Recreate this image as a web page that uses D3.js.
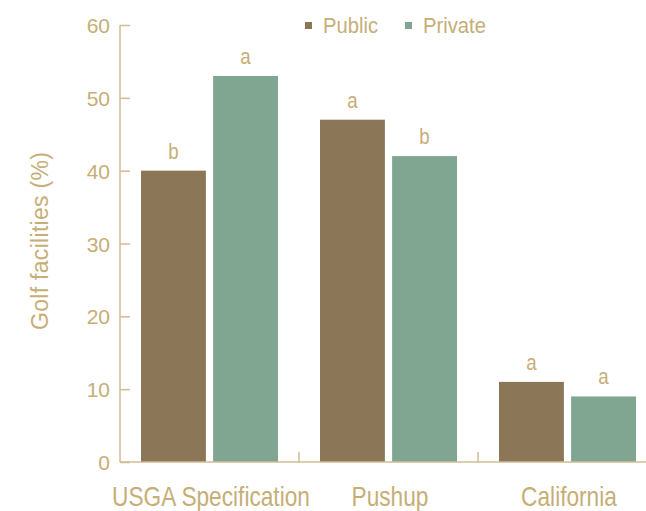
<!DOCTYPE html>
<html lang="en">
<head>
<meta charset="UTF-8">
<title>Golf facilities</title>
<script src="https://cdn.jsdelivr.net/npm/d3@7"></script>
<style>
    body { margin: 0; background: #fff; }
    text { font-family: "Liberation Sans", Arial, sans-serif; fill: #c6ae76; }
</style>
</head>
<body>
<script>
    const categories = ["USGA Specification", "Pushup", "California"];
    const series = ["Public", "Private"];
    const publicValues = [40, 47, 11];
    const privateValues = [53, 42, 9];
    const publicLetters = ["b", "a", "a"];
    const privateLetters = ["a", "b", "a"];
    const yTicks = [0, 10, 20, 30, 40, 50, 60];

    const width = 646, height = 511;
    const colors = { Public: "#8c7658", Private: "#80a692" };
    const axisColor = "#cfbc92";

    const rows = categories.map((c, i) => ({
        cat: c,
        vals: [
            { key: "Public", value: publicValues[i], letter: publicLetters[i] },
            { key: "Private", value: privateValues[i], letter: privateLetters[i] }
        ]
    }));

    const svg = d3.select("body").append("svg").attr("width", width).attr("height", height);

    const x0 = d3.scaleBand().domain(categories).range([120, 657]).padding(0);
    const x1 = d3.scaleBand().domain(series).range([21, 158]).paddingInner(0.1);
    const y = d3.scaleLinear().domain([0, 60]).range([462, 25]);

    // narrow text: draw in a group squeezed horizontally
    const narrowText = (sel, k) => sel
        .attr("transform", function () {
            const t = d3.select(this);
            return `translate(${t.attr("x")},${t.attr("y")}) scale(${k},1)`;
        })
        .attr("x", 0).attr("y", 0);

    // bars
    const grp = svg.append("g").selectAll("g").data(rows).join("g")
        .attr("transform", d => `translate(${x0(d.cat)},0)`);
    grp.selectAll("rect").data(d => d.vals).join("rect")
        .attr("x", d => x1(d.key))
        .attr("y", d => y(d.value))
        .attr("width", x1.bandwidth())
        .attr("height", d => y(0) - y(d.value))
        .attr("fill", d => colors[d.key]);
    grp.selectAll("text").data(d => d.vals).join("text")
        .attr("x", d => x1(d.key) + x1.bandwidth() / 2)
        .attr("y", d => y(d.value) - 12)
        .attr("text-anchor", "middle")
        .attr("font-size", 22)
        .text(d => d.letter)
        .call(narrowText, 0.85);

    // y axis
    const yAxis = svg.append("g").attr("transform", "translate(120,0)")
        .call(d3.axisRight(y).tickValues(yTicks).tickSize(10).tickFormat(d3.format("d")));
    yAxis.select(".domain").attr("stroke", axisColor).attr("stroke-width", 1.5).attr("d", `M0,${y(60)}V${y(0)}`);
    yAxis.selectAll(".tick line").attr("stroke", axisColor).attr("stroke-width", 1.5);
    yAxis.selectAll(".tick text")
        .attr("x", -10).attr("text-anchor", "end").attr("dy", "0.36em")
        .attr("font-size", 21).attr("fill", null)
        .style("font-family", null);
    yAxis.attr("font-family", null).attr("font-size", null);

    // x axis
    const xAxis = svg.append("g").attr("transform", `translate(0,${y(0)})`)
        .call(d3.axisTop(x0).tickSize(0).tickFormat(""));
    xAxis.select(".domain").attr("stroke", axisColor).attr("stroke-width", 1.5).attr("d", `M120,0H${width}`);
    xAxis.selectAll(".tick").remove();
    xAxis.selectAll(".sep").data(categories.slice(1)).join("line")
        .attr("x1", d => x0(d)).attr("x2", d => x0(d))
        .attr("y1", 0).attr("y2", -10)
        .attr("stroke", axisColor).attr("stroke-width", 1.5);

    svg.append("g").selectAll("text").data(categories).join("text")
        .attr("x", d => x0(d) + 91)
        .attr("y", 506)
        .attr("text-anchor", "middle")
        .attr("font-size", 27)
        .text(d => d)
        .call(narrowText, 0.84);

    // y label
    svg.append("text")
        .attr("transform", "translate(48,241) rotate(-90)")
        .attr("text-anchor", "middle")
        .attr("font-size", 23)
        .attr("textLength", 178)
        .text("Golf facilities (%)");

    // legend
    const legendX = [305, 405];
    const leg = svg.append("g").selectAll("g").data(series).join("g")
        .attr("transform", (d, i) => `translate(${legendX[i]},25)`);
    leg.append("rect").attr("x", 0).attr("y", -3).attr("width", 7).attr("height", 7)
        .attr("fill", d => colors[d]);
    leg.append("text").attr("x", 18).attr("y", 8).attr("font-size", 22).text(d => d)
        .call(narrowText, 0.92);
</script>
</body>
</html>
